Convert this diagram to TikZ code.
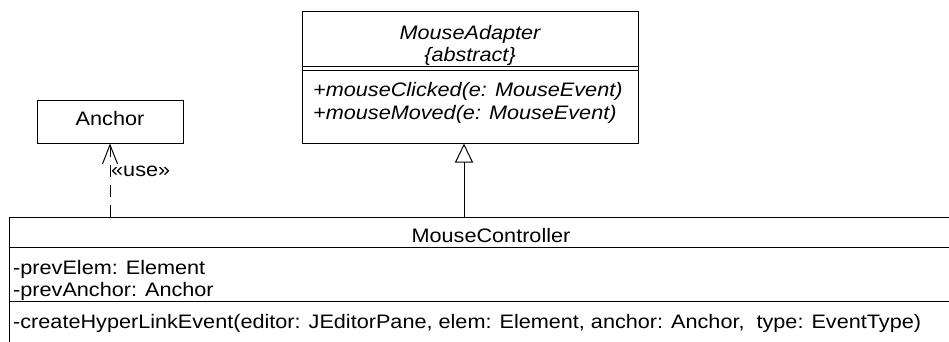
\documentclass[tikz,border=0pt]{standalone}
\usepackage{fontspec}
\setmainfont{Liberation Sans}[FakeStretch=1.11]
\usetikzlibrary{arrows.meta}
\tikzset{
  umlbox/.style={draw=black, line width=1pt, rectangle, inner sep=0pt},
  txt/.style={inner sep=0pt, font=\fontsize{19.5}{23}\selectfont},
  itxt/.style={txt, font=\fontsize{19.5}{23}\selectfont\itshape},
  sep/.style={line width=1pt},
  usedep/.style={line width=1pt, dash pattern=on 12pt off 8pt, -{Straight Barb[length=19pt,width=15pt,line width=1pt]}},
  gen/.style={line width=1pt, -{Triangle[open,length=19pt,width=18pt,line width=1pt]}}
}
\begin{document}
\begin{tikzpicture}[x=1pt,y=-1pt]
\useasboundingbox (0,0) rectangle (949,342);
\clip (0,0) rectangle (949,342);
\fill[white] (0,0) rectangle (949,342);

% MouseAdapter
\node[umlbox, minimum width=336pt, minimum height=131pt] (ma) at (470,77.5) {};
\node[itxt, anchor=base] (maname) at (470,40) {MouseAdapter};
\node[itxt, anchor=base] (maabs) at (470,62) {\{abstract\}};
\draw[sep] (ma.west |- 0,67) -- (ma.east |- 0,67);
\draw[sep] (ma.west |- 0,71) -- (ma.east |- 0,71);
\node[itxt, anchor=base west] (mam1) at (313,96) {+mouseClicked(e: MouseEvent)};
\node[itxt, anchor=base west] (mam2) at (313,119) {+mouseMoved(e: MouseEvent)};

% Anchor
\node[umlbox, minimum width=146pt, minimum height=42pt] (anchor) at (110,122) {};
\node[txt, anchor=base] (anchorname) at (110,125) {Anchor};

% MouseController
\node[umlbox, minimum width=964pt, minimum height=143pt] (mc) at (491,288.5) {};
\node[txt, anchor=base] (mcname) at (491,242) {MouseController};
\draw[sep] (mc.west |- 0,247) -- (mc.east |- 0,247);
\node[txt, anchor=base west] (mca1) at (13,274.5) {-prevElem: Element};
\node[txt, anchor=base west] (mca2) at (13,296.5) {-prevAnchor: Anchor};
\draw[sep] (mc.west |- 0,301) -- (mc.east |- 0,301);
\node[txt, anchor=base west] (mcm1) at (13,328) {-createHyperLinkEvent(editor: JEditorPane, elem: Element, anchor: Anchor,\ \ type: EventType)};

% connectors
\draw[usedep] (anchor.south |- mc.north) -- (anchor.south);
\node[txt, anchor=base west] (uselbl) at (111,176) {«use»};
\coordinate (gx) at (464,0);
\draw[gen] (mc.north -| gx) -- (ma.south -| gx);
\end{tikzpicture}
\end{document}
